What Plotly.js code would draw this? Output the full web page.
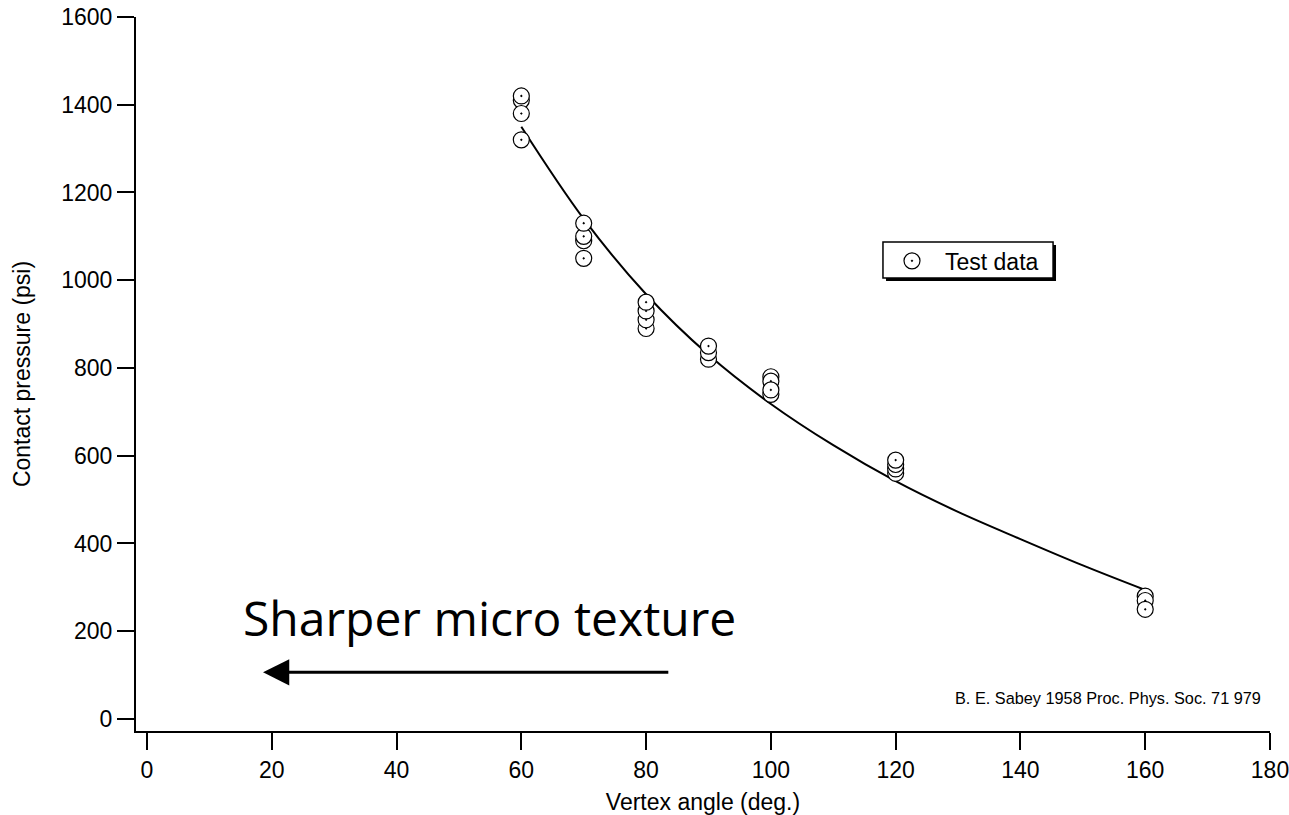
<!DOCTYPE html>
<html>
<head>
<meta charset="utf-8">
<script src="https://cdn.plot.ly/plotly-3.0.1.min.js"></script>
<style>html,body{margin:0;padding:0;background:#fff;}#chart{width:1289px;height:815px;}</style>
</head>
<body>
<div id="chart"></div>
<script>
// Test data (vertex angle in degrees, contact pressure in psi)
var testAngle = [60, 60, 60, 60,
                 70, 70, 70, 70,
                 80, 80, 80, 80,
                 90, 90, 90,
                 100, 100, 100, 100,
                 120, 120, 120, 120,
                 160, 160, 160];
var testPressure = [1410, 1420, 1380, 1320,
                    1090, 1100, 1130, 1050,
                    890, 910, 930, 950,
                    820, 835, 850,
                    780, 770, 740, 750,
                    560, 570, 580, 590,
                    280, 270, 250];

// Fitted curve
var fitAngle = [60, 70, 80, 90, 100, 110, 120, 130, 140, 150, 160];
var fitPressure = [1350, 1140, 968, 830, 718, 624, 542, 472, 410, 350, 294];

var xTicks = [0, 20, 40, 60, 80, 100, 120, 140, 160, 180];
var yTicks = [0, 200, 400, 600, 800, 1000, 1200, 1400, 1600];

var FONT = 'Liberation Sans, Arial, sans-serif';
var FS = 23;

var traces = [
  {
    x: fitAngle, y: fitPressure, type: 'scatter', mode: 'lines',
    line: {color: '#000', width: 2, shape: 'spline'},
    showlegend: false, hoverinfo: 'skip'
  },
  {
    x: testAngle, y: testPressure, type: 'scatter', mode: 'markers',
    name: 'Test data',
    marker: {symbol: 'circle-dot', size: 16, color: '#fff', line: {color: '#000', width: 1.2}}
  }
];

var layout = {
  width: 1289, height: 815,
  margin: {l: 136, r: 19, t: 17, b: 84},
  paper_bgcolor: '#fff', plot_bgcolor: '#fff',
  font: {family: FONT, size: FS, color: '#000'},
  showlegend: true,
  legend: {
    x: 0.6552, y: 0.6885, xanchor: 'left', yanchor: 'top',
    bgcolor: 'rgba(0,0,0,0)', borderwidth: 0, itemwidth: 56,
    font: {family: FONT, size: FS, color: '#000'}
  },
  xaxis: {
    range: [-1.76, 180], tickvals: xTicks, ticktext: xTicks.map(String),
    showline: true, linecolor: '#000', linewidth: 2,
    ticks: 'outside', ticklen: 17, tickwidth: 2, tickcolor: '#000',
    showgrid: false, zeroline: false, ticklabeloverflow: 'allow',
    tickfont: {family: FONT, size: FS},
    title: {text: 'Vertex angle (deg.)', font: {family: FONT, size: FS}, standoff: 12}
  },
  yaxis: {
    range: [-27.4, 1600], tickvals: yTicks, ticktext: yTicks.map(String),
    showline: true, linecolor: '#000', linewidth: 2,
    ticks: 'outside', ticklen: 17, tickwidth: 2, tickcolor: '#000',
    showgrid: false, zeroline: false, ticklabeloverflow: 'allow',
    tickfont: {family: FONT, size: FS},
    title: {text: 'Contact pressure (psi)', font: {family: FONT, size: FS}, standoff: 24}
  },
  shapes: [
    // legend drop shadow
    {type: 'rect', xref: 'paper', yref: 'paper', layer: 'below',
     x0: 0.6614, x1: 0.8113, y0: 0.6303, y1: 0.6807,
     fillcolor: '#000', line: {width: 0}},
    // legend box
    {type: 'rect', xref: 'paper', yref: 'paper', layer: 'below',
     x0: 0.6587, x1: 0.8087, y0: 0.6345, y1: 0.6849,
     fillcolor: '#fff', line: {color: '#000', width: 1.5}}
  ],
  annotations: [
    {text: 'Sharper micro texture', x: 54.9, y: 232, xref: 'x', yref: 'y',
     showarrow: false, xanchor: 'center', yanchor: 'middle',
     font: {family: 'Open Sans, Noto Sans, sans-serif', size: 48, color: '#000'}},
    {text: '', x: 18.6, y: 106.4, ax: 83.8, ay: 106.4, xref: 'x', yref: 'y', axref: 'x', ayref: 'y',
     showarrow: true, arrowhead: 2, arrowwidth: 3, arrowsize: 1.75, arrowcolor: '#000', standoff: 0},
    {text: 'B. E. Sabey 1958 Proc. Phys. Soc. 71 979', x: 0.994, y: 0.0462, xref: 'paper', yref: 'paper',
     showarrow: false, xanchor: 'right', yanchor: 'middle',
     font: {family: FONT, size: 16.3, color: '#000'}}
  ]
};

Plotly.newPlot('chart', traces, layout, {staticPlot: true, displayModeBar: false});
</script>
</body>
</html>
